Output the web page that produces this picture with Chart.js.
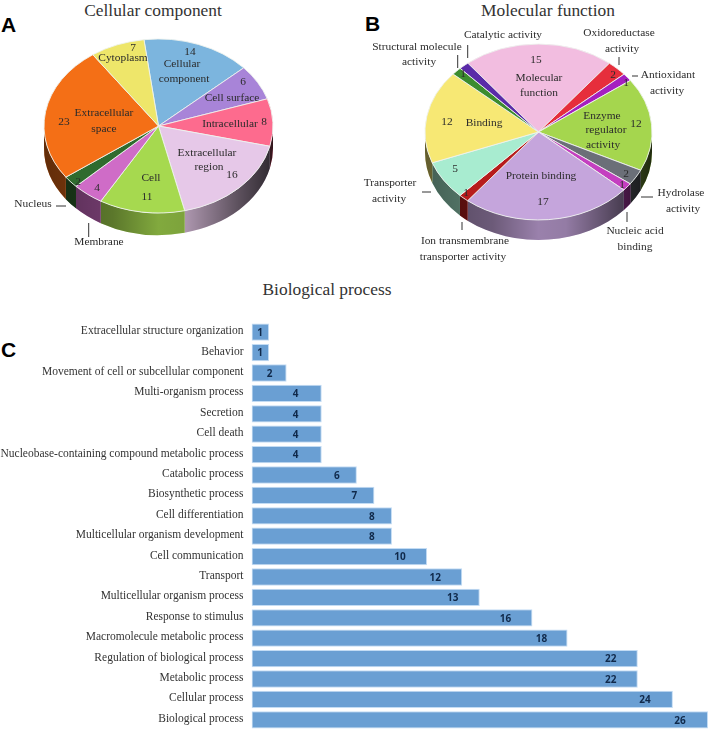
<!DOCTYPE html>
<html>
<head>
<meta charset="utf-8">
<title>Gene ontology</title>
<script src="https://cdn.jsdelivr.net/npm/chart.js@4"></script>
<style>
    html, body { margin: 0; padding: 0; background: #fff; overflow: hidden; }
    #page { position: relative; width: 709px; height: 730px; font-family: "Liberation Serif", serif; color: #333; }
    canvas { position: absolute; }
    .title { position: absolute; font-size: 17.4px; line-height: 20px; transform: translateX(-50%); white-space: nowrap; }
    .panel { position: absolute; font: bold 21px/24px "Liberation Sans", Arial, sans-serif; color: #000; }
</style>
</head>
<body>
<div id="page">
    <div class="title" style="left:153px;top:0">Cellular component</div>
    <div class="title" style="left:548px;top:0">Molecular function</div>
    <div class="title" style="left:327px;top:279px">Biological process</div>
    <div class="panel" style="left:1px;top:13px">A</div>
    <div class="panel" style="left:365px;top:12px">B</div>
    <div class="panel" style="left:1px;top:338px">C</div>
    <canvas id="pie-a" width="350" height="270" style="left:0;top:0"></canvas>
    <canvas id="pie-b" width="359" height="270" style="left:350px;top:0"></canvas>
    <canvas id="bars" width="709" height="408" style="left:0;top:322px"></canvas>
</div>
<script>
const cellularLabels = ['Cellular component', 'Cell surface', 'Intracellular', 'Extracellular region', 'Cell', 'Membrane', 'Nucleus', 'Extracellular space', 'Cytoplasm'];
const cellularValues = [14, 6, 8, 16, 11, 4, 2, 23, 7];
const cellularColors = ['#7cb5de', '#a884d8', '#fd6b8e', '#e6c8e8', '#a6d94f', '#cf6cc7', '#2f6b2e', '#f46f16', '#eee66a'];

const molecularLabels = ['Molecular function', 'Oxidoreductase activity', 'Antioxidant activity', 'Enzyme regulator activity', 'Hydrolase activity', 'Nucleic acid binding', 'Protein binding', 'Ion transmembrane transporter activity', 'Transporter activity', 'Binding', 'Structural molecule activity', 'Catalytic activity'];
const molecularValues = [15, 2, 1, 12, 2, 1, 17, 1, 5, 12, 1, 1];
const molecularColors = ['#f2bde0', '#e62e3c', '#a51fc0', '#a5d64e', '#6b6f78', '#c43fc0', '#c5a5dc', '#b71c1c', '#a8ecd0', '#f7e874', '#3c8c2e', '#5a2aa8'];

const processLabels = ['Extracellular structure organization', 'Behavior', 'Movement of cell or subcellular component', 'Multi-organism process', 'Secretion', 'Cell death', 'Nucleobase-containing compound metabolic process', 'Catabolic process', 'Biosynthetic process', 'Cell differentiation', 'Multicellular organism development', 'Cell communication', 'Transport', 'Multicellular organism process', 'Response to stimulus', 'Macromolecule metabolic process', 'Regulation of biological process', 'Metabolic process', 'Cellular process', 'Biological process'];
const processValues = [1, 1, 2, 4, 4, 4, 4, 6, 7, 8, 8, 10, 12, 13, 16, 18, 22, 22, 24, 26];
// how far each value label sits in from the end of its bar
const processLabelInset = [9, 9, 17, 26, 26, 26, 26, 20, 20, 20, 20, 27, 27, 27, 27, 26, 27, 27, 28, 28];

// hand placed annotations, in page coordinates like the original figure
const cellularNotes = [
    ['7', 133, 48], ['Cytoplasm', 123, 58], ['14', 190, 52], ['Cellular', 182, 64], ['component', 184, 79],
    ['6', 243, 82], ['Cell surface', 232, 98], ['Intracellular', 230, 124], ['8', 264, 122],
    ['Extracellular', 207, 153], ['region', 209, 167], ['16', 232, 175], ['Cell', 151, 178], ['11', 147, 197],
    ['4', 97, 188], ['2', 78, 182], ['23', 64, 122], ['Extracellular', 104, 113], ['space', 104, 129],
    ['Nucleus', 33, 204], ['Membrane', 99, 242],
];
const cellularLeaders = [[56, 206, 66, 206], [88.7, 223, 88.7, 237]];

const molecularNotes = [
    ['Catalytic activity', 503, 35], ['Structural molecule', 417, 47], ['activity', 419, 62],
    ['Oxidoreductase', 619, 33], ['activity', 622, 49], ['Antioxidant', 668, 75], ['activity', 667, 91],
    ['15', 536, 60], ['Molecular', 539, 78], ['function', 539, 93], ['2', 613, 75], ['1', 626, 83], ['1', 463, 74],
    ['Binding', 484, 123], ['12', 447, 122], ['Enzyme', 602, 116], ['regulator', 606, 130], ['activity', 603, 145],
    ['12', 636, 124], ['2', 626, 174], ['1', 622, 185], ['Protein binding', 541, 176], ['17', 543, 202],
    ['5', 455, 169], ['1', 466, 193], ['Transporter', 390, 183], ['activity', 389, 199],
    ['Hydrolase', 681, 193], ['activity', 683, 209], ['Nucleic acid', 635, 231], ['binding', 635, 247],
    ['Ion transmembrane', 465, 241], ['transporter activity', 463, 257],
];
const molecularLeaders = [
    [467.7, 45, 467.7, 58], [457.7, 55, 457.7, 68], [619, 57, 619, 65], [632, 76, 638, 76],
    [422, 192, 431, 192], [641, 197, 653, 197], [627, 212, 627, 222], [462, 222, 462, 230],
];

// Chart.js has no 3D pie: squash the arcs and draw the side wall underneath them
const pie3d = {
    id: 'pie3d',
    beforeDatasetsDraw(chart, args, opts) {
        const { ctx } = chart;
        const arcs = chart.getDatasetMeta(0).data;
        const { x, y, outerRadius: r } = arcs[0];
        const shade = ctx.createLinearGradient(x - r, 0, x + r, 0);
        shade.addColorStop(0, 'rgba(0,0,0,0.6)');
        shade.addColorStop(0.3, 'rgba(0,0,0,0.45)');
        shade.addColorStop(0.5, 'rgba(0,0,0,0.22)');
        shade.addColorStop(0.62, 'rgba(0,0,0,0.25)');
        shade.addColorStop(0.85, 'rgba(0,0,0,0.6)');
        shade.addColorStop(1, 'rgba(0,0,0,0.8)');

        arcs.forEach((arc, i) => {
            for (let k = -1; k <= 1; k++) {
                const from = Math.max(arc.startAngle, 2 * Math.PI * k);
                const to = Math.min(arc.endAngle, Math.PI + 2 * Math.PI * k);
                if (from >= to) {
                    continue;
                }
                ctx.beginPath();
                ctx.ellipse(x, y, r, r * opts.squash, 0, from, to);
                ctx.ellipse(x, y + opts.depth, r, r * opts.squash, 0, to, from, true);
                ctx.closePath();
                ctx.fillStyle = arc.options.backgroundColor;
                ctx.fill();
                ctx.fillStyle = shade;
                ctx.fill();
            }
        });

        ctx.save();
        ctx.translate(x, y);
        ctx.scale(1, opts.squash);
        ctx.translate(-x, -y);
    },
    afterDatasetsDraw(chart, args, opts) {
        const { ctx } = chart;
        ctx.restore();

        ctx.fillStyle = '#2b2b2b';
        ctx.font = '11.4px "Liberation Serif"';
        ctx.textAlign = 'center';
        ctx.textBaseline = 'middle';
        opts.notes.forEach(([text, px, py]) => ctx.fillText(text, px - opts.left, py));

        ctx.strokeStyle = '#333';
        ctx.lineWidth = 1;
        opts.leaders.forEach(([x1, y1, x2, y2]) => {
            ctx.beginPath();
            ctx.moveTo(x1 - opts.left, y1);
            ctx.lineTo(x2 - opts.left, y2);
            ctx.stroke();
        });
    },
};

function drawPie(id, labels, values, colors, rotation, radius, padding, pieOptions) {
    return new Chart(document.getElementById(id), {
        type: 'pie',
        data: {
            labels,
            datasets: [{
                data: values,
                backgroundColor: colors,
                borderColor: '#eef2ee',
                borderWidth: 1,
                clip: false,
            }],
        },
        options: {
            responsive: false,
            animation: false,
            rotation,
            radius,
            layout: { padding },
            plugins: {
                legend: { display: false },
                tooltip: { enabled: false },
                pie3d: pieOptions,
            },
        },
        plugins: [pie3d],
    });
}

drawPie('pie-a', cellularLabels, cellularValues, cellularColors, -7.3, 114.5,
    { right: 33, bottom: 18 },
    { squash: 0.76, depth: 22, left: 0, notes: cellularNotes, leaders: cellularLeaders });

drawPie('pie-b', molecularLabels, molecularValues, molecularColors, -38.5, 113.5,
    { left: 18, bottom: 6 },
    { squash: 0.775, depth: 20, left: 350, notes: molecularNotes, leaders: molecularLeaders });

const barValueLabels = {
    id: 'barValueLabels',
    afterDatasetsDraw(chart) {
        const { ctx } = chart;
        ctx.save();
        ctx.fillStyle = '#10294a';
        ctx.font = 'bold 10px "Open Sans"';
        ctx.textAlign = 'center';
        ctx.textBaseline = 'middle';
        chart.getDatasetMeta(0).data.forEach((bar, i) => {
            ctx.fillText(String(processValues[i]), bar.x - processLabelInset[i], bar.y + 1);
        });
        ctx.restore();
    },
};

new Chart(document.getElementById('bars'), {
    type: 'bar',
    data: {
        labels: processLabels,
        datasets: [{
            data: processValues,
            backgroundColor: '#6a9fd3',
            borderColor: '#c3dcf4',
            borderWidth: 1,
            borderSkipped: false,
            barPercentage: 0.85,
            categoryPercentage: 1,
        }],
    },
    options: {
        indexAxis: 'y',
        responsive: false,
        animation: false,
        layout: { padding: { right: 1 } },
        plugins: {
            legend: { display: false },
            tooltip: { enabled: false },
        },
        scales: {
            x: { display: false, min: 0, max: 26 },
            y: {
                afterFit(scale) {
                    // fixed gutter, and no extra room above and below for the tick labels
                    scale.width = 251.5;
                    scale.paddingTop = 0;
                    scale.paddingBottom = 0;
                },
                grid: { display: false, drawTicks: false },
                border: { display: false },
                ticks: {
                    autoSkip: false,
                    padding: 8,
                    labelOffset: -1,
                    color: '#333',
                    font: { family: '"Liberation Serif"', size: 11.5 },
                },
            },
        },
    },
    plugins: [barValueLabels],
});
</script>
</body>
</html>
